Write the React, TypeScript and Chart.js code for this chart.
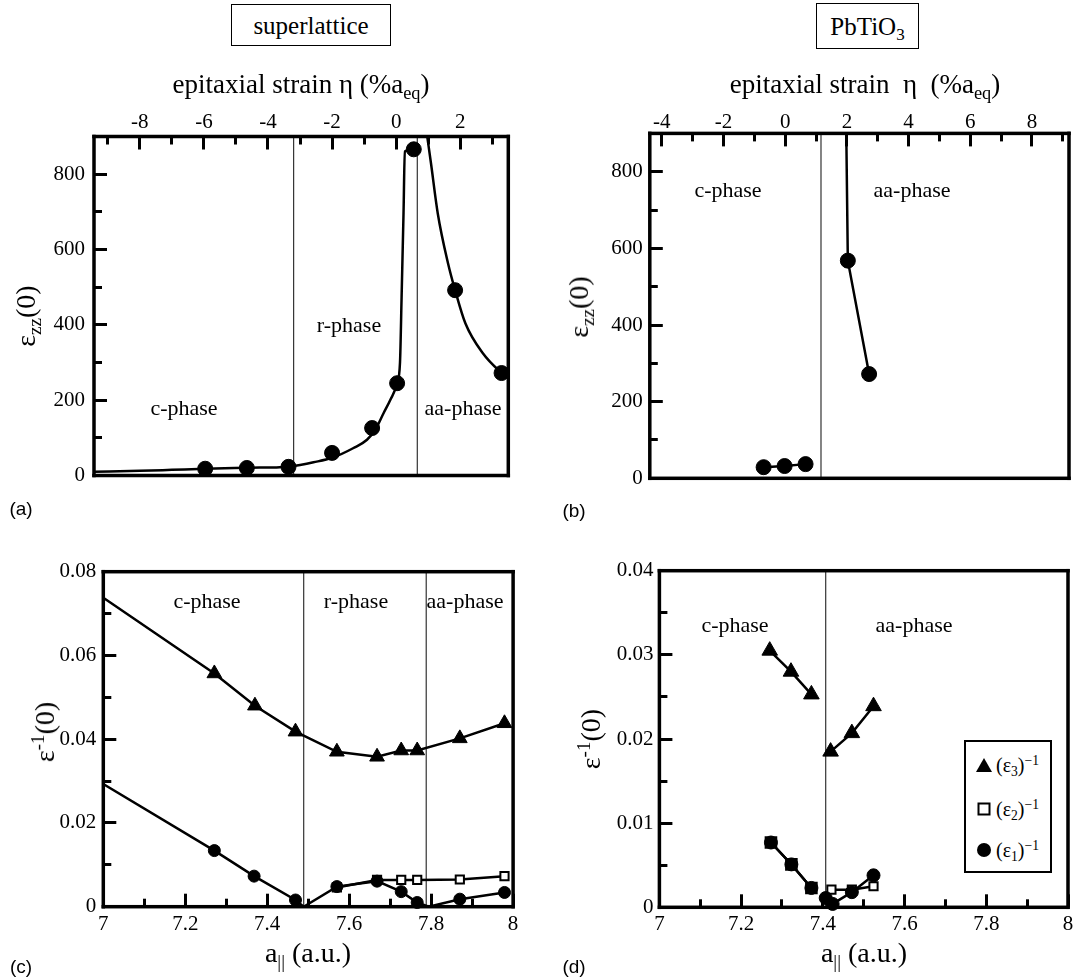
import React, { useEffect, useRef } from "react";
import { Chart, registerables } from "chart.js";

Chart.register(...registerables);

const SERIF = "'Liberation Serif', 'Times New Roman', Times, serif";
const SANS = "'Liberation Sans', Arial, Helvetica, sans-serif";

// ---------- Panel (a): superlattice, eps_zz vs strain ----------
const aStrainTicks = [-8, -6, -4, -2, 0, 2];
const aStrainLabels = ["-8", "-6", "-4", "-2", "0", "2"];
const aStrainMinor = [-9, -7, -5, -3, -1, 1, 3];
const ezzTicks = [0, 200, 400, 600, 800];
const ezzLabels = ["0", "200", "400", "600", "800"];
const ezzMinor = [100, 300, 500, 700];
const aPointEta = [-5.96, -4.66, -3.36, -2.0, -0.75, 0.03, 0.55, 1.84, 3.29];
const aPointVal = [18, 20, 23, 60, 126, 245, 866, 492, 272];
const aLeftCurveEta = [-9.43, -8, -7, -5.96, -4.66, -3.36, -3.0, -2.58, -2.0, -1.33, -0.91, -0.65, -0.39, -0.18, 0.03, 0.12, 0.17, 0.23, 0.27, 0.55];
const aLeftCurveVal = [10, 12.5, 15, 17.7, 20.4, 23.5, 28, 35, 47, 73, 95, 122, 166, 201, 245, 300, 474, 696, 860, 866];
const aRightCurveEta = [0.97, 1.09, 1.3, 1.62, 1.84, 2.16, 2.7, 3.29, 3.5];
const aRightCurveVal = [900, 827, 695, 563, 492, 404, 325, 272, 258];
const aBoundaries = [-3.2, 0.66];

// ---------- Panel (b): PbTiO3, eps_zz vs strain ----------
const bStrainTicks = [-4, -2, 0, 2, 4, 6, 8];
const bStrainLabels = ["-4", "-2", "0", "2", "4", "6", "8"];
const bStrainMinor = [-3, -1, 1, 3, 5, 7, 9];
const bCPhaseEta = [-0.7, -0.02, 0.66];
const bCPhaseVal = [29, 32, 37];
const bAaPointEta = [2.03, 2.72];
const bAaPointVal = [568, 272];
const bAaLineEta = [1.98, 2.03, 2.72];
const bAaLineVal = [900, 568, 272];
const bBoundaries = [1.16];

// ---------- Panel (c): superlattice, inverse eps vs a_par ----------
const aParTicks = [7, 7.2, 7.4, 7.6, 7.8, 8];
const aParLabels = ["7", "7.2", "7.4", "7.6", "7.8", "8"];
const aParMinor = [7.1, 7.3, 7.5, 7.7, 7.9];
const cInvTicks = [0, 0.02, 0.04, 0.06, 0.08];
const cInvLabels = ["0", "0.02", "0.04", "0.06", "0.08"];
const cInvMinor = [0.01, 0.03, 0.05, 0.07];
const cE3A = [7.271, 7.37, 7.469, 7.57, 7.668, 7.727, 7.766, 7.87, 7.979];
const cE3V = [0.0557, 0.048, 0.0418, 0.037, 0.0358, 0.0373, 0.0373, 0.0402, 0.0438];
const cE3LineA = [7.0, 7.271, 7.37, 7.469, 7.57, 7.668, 7.727, 7.766, 7.87, 7.979];
const cE3LineV = [0.0738, 0.0557, 0.048, 0.0418, 0.037, 0.0358, 0.0373, 0.0373, 0.0402, 0.0438];
const cE2A = [7.57, 7.668, 7.727, 7.766, 7.87, 7.979];
const cE2V = [0.0046, 0.0064, 0.0064, 0.0064, 0.0065, 0.0073];
const cE1A = [7.271, 7.368, 7.469, 7.57, 7.668, 7.727, 7.766, 7.87, 7.979];
const cE1V = [0.0134, 0.0073, 0.0016, 0.0048, 0.0061, 0.0036, 0.001, 0.0018, 0.0034];
const cE1LineA = [7.0, 7.271, 7.368, 7.469, 7.489, 7.57, 7.668, 7.727, 7.766, 7.794, 7.87, 7.979];
const cE1LineV = [0.0293, 0.0134, 0.0073, 0.0016, 0, 0.0048, 0.0061, 0.0036, 0.001, 0, 0.0018, 0.0034];
const cBoundaries = [7.489, 7.788];

// ---------- Panel (d): PbTiO3, inverse eps vs a_par ----------
const dInvTicks = [0, 0.01, 0.02, 0.03, 0.04];
const dInvLabels = ["0", "0.01", "0.02", "0.03", "0.04"];
const dInvMinor = [0.005, 0.015, 0.025, 0.035];
const dE3cA = [7.27, 7.322, 7.372];
const dE3cV = [0.0305, 0.028, 0.0253];
const dE3aaA = [7.419, 7.471, 7.524];
const dE3aaV = [0.0185, 0.0207, 0.0239];
const dE2cA = [7.273, 7.323, 7.372];
const dE2cV = [0.0077, 0.0051, 0.0023];
const dE2aaA = [7.421, 7.471, 7.524];
const dE2aaV = [0.0021, 0.0021, 0.0025];
const dE1cA = [7.273, 7.323, 7.372];
const dE1cV = [0.0077, 0.0051, 0.0023];
const dE1aaA = [7.407, 7.424, 7.471, 7.524];
const dE1aaV = [0.0011, 0.0004, 0.0018, 0.0038];
const dBoundaries = [7.407];

// ---------- helpers ----------
const xy = (xs: number[], ys: number[]) => xs.map((x, i) => ({ x, y: ys[i] }));

const lineDs = (data: any[], extra: any = {}) => ({
  data,
  borderColor: "#000",
  borderWidth: 2.5,
  pointRadius: 0,
  pointHoverRadius: 0,
  tension: 0,
  fill: false,
  ...extra,
});

const markDs = (data: any[], style: string, r: number, open = false, withLine = false) => ({
  data,
  showLine: withLine,
  borderColor: "#000",
  borderWidth: 2.5,
  tension: 0,
  fill: false,
  pointStyle: style,
  pointRadius: r,
  pointHoverRadius: r,
  pointBackgroundColor: open ? "#fff" : "#000",
  pointBorderColor: "#000",
  pointBorderWidth: open ? 2 : 1,
  clip: 14,
});

const vlineDs = (x: number, y0: number, y1: number) => ({
  data: [
    { x, y: y0 },
    { x, y: y1 },
  ],
  borderColor: "#333",
  borderWidth: 1.2,
  pointRadius: 0,
  pointHoverRadius: 0,
  fill: false,
});

function axis(o: any, horizontal: boolean) {
  return {
    type: "linear",
    position: o.position,
    min: o.min,
    max: o.max,
    grid: { display: false, drawTicks: false },
    border: { display: false },
    ticks: {
      color: "#000",
      font: { family: SERIF, size: 21 },
      padding: o.pad,
      autoSkip: false,
      maxRotation: 0,
      minRotation: 0,
      callback: (_v: any, i: number) => o.labels[i],
    },
    afterBuildTicks: (s: any) => {
      s.ticks = o.ticks.map((v: number) => ({ value: v }));
    },
    afterFit: (s: any) => {
      if (horizontal) s.height = o.size;
      else s.width = o.size;
      s.paddingLeft = 0;
      s.paddingRight = 0;
      s.paddingTop = 0;
      s.paddingBottom = 0;
    },
  };
}

function framePlugin(cfg: any) {
  return {
    id: "frameTicks",
    afterDraw(chart: any) {
      const ctx = chart.ctx;
      const ca = chart.chartArea;
      const xs = chart.scales.x;
      const ys = chart.scales.y;
      const L = ca.left;
      const R = ca.right;
      const Tp = ca.top;
      const B = ca.bottom;
      const onTop = cfg.xSide === "top";
      const tw = 3;
      ctx.save();
      ctx.fillStyle = "#000";
      const xTick = (v: number, len: number) => {
        const p = Math.round(xs.getPixelForValue(v) - tw / 2);
        if (onTop) ctx.fillRect(p, Tp, tw, len);
        else ctx.fillRect(p, B - len, tw, len);
      };
      const yTick = (v: number, len: number) => {
        const p = Math.round(ys.getPixelForValue(v) - tw / 2);
        ctx.fillRect(L, p, len, tw);
      };
      for (const v of cfg.xMajor) xTick(v, 13);
      for (const v of cfg.xMinor) xTick(v, 8);
      for (const v of cfg.yMajor) yTick(v, 13);
      for (const v of cfg.yMinor) yTick(v, 8);
      const w = 3.5;
      ctx.fillRect(L - w / 2, Tp - w / 2, R - L + w, w);
      ctx.fillRect(L - w / 2, B - w / 2, R - L + w, w);
      ctx.fillRect(L - w / 2, Tp - w / 2, w, B - Tp + w);
      ctx.fillRect(R - w / 2, Tp - w / 2, w, B - Tp + w);
      ctx.restore();
    },
  };
}

function makeConfig(o: any) {
  return {
    type: "line",
    data: { datasets: o.datasets },
    options: {
      responsive: false,
      maintainAspectRatio: false,
      animation: false,
      events: [],
      layout: { padding: o.padding },
      plugins: { legend: { display: false }, tooltip: { enabled: false } },
      scales: { x: axis(o.x, true), y: axis(o.y, false) },
    },
    plugins: [framePlugin(o.frame)],
  };
}

// ---------- chart configs ----------
const configA = () =>
  makeConfig({
    padding: { left: 0, top: 0, right: 31.7, bottom: 24.5 },
    x: { position: "top", min: -9.43, max: 3.5, ticks: aStrainTicks, labels: aStrainLabels, pad: 1, size: 40.5 },
    y: { position: "left", min: 0, max: 900, ticks: ezzTicks, labels: ezzLabels, pad: 9, size: 94 },
    frame: { xSide: "top", xMajor: aStrainTicks, xMinor: aStrainMinor, yMajor: ezzTicks, yMinor: ezzMinor },
    datasets: [
      markDs(xy(aPointEta, aPointVal), "circle", 7.5),
      lineDs(xy(aLeftCurveEta, aLeftCurveVal), { cubicInterpolationMode: "monotone" }),
      lineDs(xy(aRightCurveEta, aRightCurveVal), { cubicInterpolationMode: "monotone" }),
      ...aBoundaries.map((b) => vlineDs(b, 0, 900)),
    ],
  });

const configB = () =>
  makeConfig({
    padding: { left: 0, top: 0, right: 9, bottom: 21.7 },
    x: { position: "top", min: -4.39, max: 9.2, ticks: bStrainTicks, labels: bStrainLabels, pad: -2, size: 37.4 },
    y: { position: "left", min: 0, max: 900, ticks: ezzTicks, labels: ezzLabels, pad: 7, size: 109.8 },
    frame: { xSide: "top", xMajor: bStrainTicks, xMinor: bStrainMinor, yMajor: ezzTicks, yMinor: ezzMinor },
    datasets: [
      markDs(xy(bCPhaseEta, bCPhaseVal), "circle", 7.5, false, true),
      markDs(xy(bAaPointEta, bAaPointVal), "circle", 7.5),
      lineDs(xy(bAaLineEta, bAaLineVal)),
      ...bBoundaries.map((b) => vlineDs(b, 0, 900)),
    ],
  });

const configC = () =>
  makeConfig({
    padding: { left: 0, top: 31.7, right: 26.9, bottom: 0 },
    x: { position: "bottom", min: 7, max: 8, ticks: aParTicks, labels: aParLabels, pad: 5, size: 40.3 },
    y: { position: "left", min: 0, max: 0.08, ticks: cInvTicks, labels: cInvLabels, pad: 7, size: 103.3 },
    frame: { xSide: "bottom", xMajor: aParTicks, xMinor: aParMinor, yMajor: cInvTicks, yMinor: cInvMinor },
    datasets: [
      markDs(xy(cE1A, cE1V), "circle", 6),
      lineDs(xy(cE1LineA, cE1LineV)),
      markDs(xy(cE2A, cE2V), "rect", 5.8, true, true),
      markDs(xy(cE3A, cE3V), "triangle", 8.5),
      lineDs(xy(cE3LineA, cE3LineV)),
      ...cBoundaries.map((b) => vlineDs(b, 0, 0.08)),
    ],
  });

const configD = () =>
  makeConfig({
    padding: { left: 0, top: 30.7, right: 9.6, bottom: 0 },
    x: { position: "bottom", min: 7, max: 8, ticks: aParTicks, labels: aParLabels, pad: 5, size: 39.7 },
    y: { position: "left", min: 0, max: 0.04, ticks: dInvTicks, labels: dInvLabels, pad: 6, size: 119.4 },
    frame: { xSide: "bottom", xMajor: aParTicks, xMinor: aParMinor, yMajor: dInvTicks, yMinor: dInvMinor },
    datasets: [
      markDs(xy(dE1cA, dE1cV), "circle", 6.5, false, true),
      markDs(xy(dE1aaA, dE1aaV), "circle", 6.5, false, true),
      markDs(xy(dE2cA, dE2cV), "rect", 7.5, true, true),
      markDs(xy(dE2aaA, dE2aaV), "rect", 5.8, true, true),
      markDs(xy(dE3cA, dE3cV), "triangle", 9, false, true),
      markDs(xy(dE3aaA, dE3aaV), "triangle", 9, false, true),
      ...dBoundaries.map((b) => vlineDs(b, 0, 0.04)),
    ],
  });

// ---------- components ----------
function ChartCanvas({ left, top, width, height, make }: any) {
  const ref = useRef<HTMLCanvasElement>(null);
  useEffect(() => {
    const chart = new Chart(ref.current as any, make() as any);
    return () => chart.destroy();
  }, []);
  return (
    <canvas
      ref={ref}
      width={width}
      height={height}
      style={{ position: "absolute", left, top, width, height }}
    />
  );
}

const Sub = ({ children }: any) => (
  <span style={{ fontSize: "0.68em", position: "relative", top: "0.32em" }}>{children}</span>
);
const Sup = ({ children }: any) => (
  <span style={{ fontSize: "0.68em", position: "relative", top: "-0.55em" }}>{children}</span>
);

function T({ x, y, size, rot, family = SERIF, children }: any) {
  return (
    <div
      style={{
        position: "absolute",
        left: x,
        top: y,
        transform: `translate(-50%, -50%)${rot ? ` rotate(${rot}deg)` : ""}`,
        fontFamily: family,
        fontSize: size,
        lineHeight: 1,
        whiteSpace: "nowrap",
        color: "#000",
      }}
    >
      {children}
    </div>
  );
}

function Box({ left, top, w, h, children }: any) {
  return (
    <div
      style={{
        position: "absolute",
        left,
        top,
        width: w,
        height: h,
        boxSizing: "border-box",
        border: "1.5px solid #000",
        display: "flex",
        alignItems: "center",
        justifyContent: "center",
        fontFamily: SERIF,
        fontSize: 25,
        lineHeight: 1,
        color: "#000",
      }}
    >
      <span>{children}</span>
    </div>
  );
}

function LegendD() {
  const item = (y: number, marker: any, sub: string) => (
    <div style={{ position: "absolute", left: 0, top: y, width: "100%", height: 0 }}>
      <div style={{ position: "absolute", left: 18, top: 0, transform: "translate(-50%, -50%)" }}>{marker}</div>
      <div
        style={{
          position: "absolute",
          left: 30,
          top: 0,
          transform: "translateY(-50%)",
          fontFamily: SERIF,
          fontSize: 20,
          lineHeight: 1,
          whiteSpace: "nowrap",
        }}
      >
        (ε<Sub>{sub}</Sub>)<Sup>−1</Sup>
      </div>
    </div>
  );
  const tri = (
    <div
      style={{
        width: 0,
        height: 0,
        borderLeft: "8px solid transparent",
        borderRight: "8px solid transparent",
        borderBottom: "14px solid #000",
      }}
    />
  );
  const sq = <div style={{ width: 9, height: 9, border: "2px solid #000", background: "#fff" }} />;
  const circ = <div style={{ width: 14, height: 14, borderRadius: "50%", background: "#000" }} />;
  return (
    <div
      style={{
        position: "absolute",
        left: 964,
        top: 740,
        width: 88,
        height: 133,
        boxSizing: "border-box",
        border: "2px solid #000",
        background: "#fff",
      }}
    >
      {item(23, tri, "3")}
      {item(67, sq, "2")}
      {item(108, circ, "1")}
    </div>
  );
}

export default function App() {
  return (
    <div
      style={{
        position: "absolute",
        left: 0,
        top: 0,
        width: 1078,
        height: 979,
        background: "#fff",
        overflow: "hidden",
      }}
    >
      <ChartCanvas left={0} top={96} width={540} height={404} make={configA} />
      <ChartCanvas left={540} top={96} width={538} height={404} make={configB} />
      <ChartCanvas left={0} top={540} width={540} height={407} make={configC} />
      <ChartCanvas left={540} top={540} width={538} height={407} make={configD} />

      {/* titles */}
      <Box left={231} top={4} w={160} h={42}>superlattice</Box>
      <Box left={816} top={3} w={103} h={46}>
        PbTiO<Sub>3</Sub>
      </Box>

      {/* top axis titles */}
      <T x={301} y={84} size={27}>
        epitaxial strain η (%a<Sub>eq</Sub>)
      </T>
      <T x={865} y={84} size={27}>
        epitaxial strain&nbsp; η&nbsp; (%a<Sub>eq</Sub>)
      </T>

      {/* y axis titles */}
      <T x={26} y={316} size={28} rot={-90}>
        ε<Sub>zz</Sub>(0)
      </T>
      <T x={579} y={307} size={28} rot={-90}>
        ε<Sub>zz</Sub>(0)
      </T>
      <T x={45} y={732} size={28} rot={-90}>
        ε<Sup>-1</Sup>(0)
      </T>
      <T x={591} y={739} size={28} rot={-90}>
        ε<Sup>-1</Sup>(0)
      </T>

      {/* bottom axis titles */}
      <T x={308} y={953} size={28}>
        a<Sub>||</Sub> (a.u.)
      </T>
      <T x={864} y={953} size={28}>
        a<Sub>||</Sub> (a.u.)
      </T>

      {/* phase labels */}
      <T x={184} y={408} size={22}>c-phase</T>
      <T x={349} y={325} size={22}>r-phase</T>
      <T x={463} y={408} size={22}>aa-phase</T>
      <T x={728} y={190} size={22}>c-phase</T>
      <T x={912} y={190} size={22}>aa-phase</T>
      <T x={207} y={601} size={22}>c-phase</T>
      <T x={356} y={601} size={22}>r-phase</T>
      <T x={465} y={601} size={22}>aa-phase</T>
      <T x={735} y={625} size={22}>c-phase</T>
      <T x={914} y={625} size={22}>aa-phase</T>

      {/* panel letters */}
      <T x={21} y={508} size={19} family={SANS}>(a)</T>
      <T x={574} y={510} size={19} family={SANS}>(b)</T>
      <T x={21} y={966} size={19} family={SANS}>(c)</T>
      <T x={574} y={966} size={19} family={SANS}>(d)</T>

      <LegendD />
    </div>
  );
}
